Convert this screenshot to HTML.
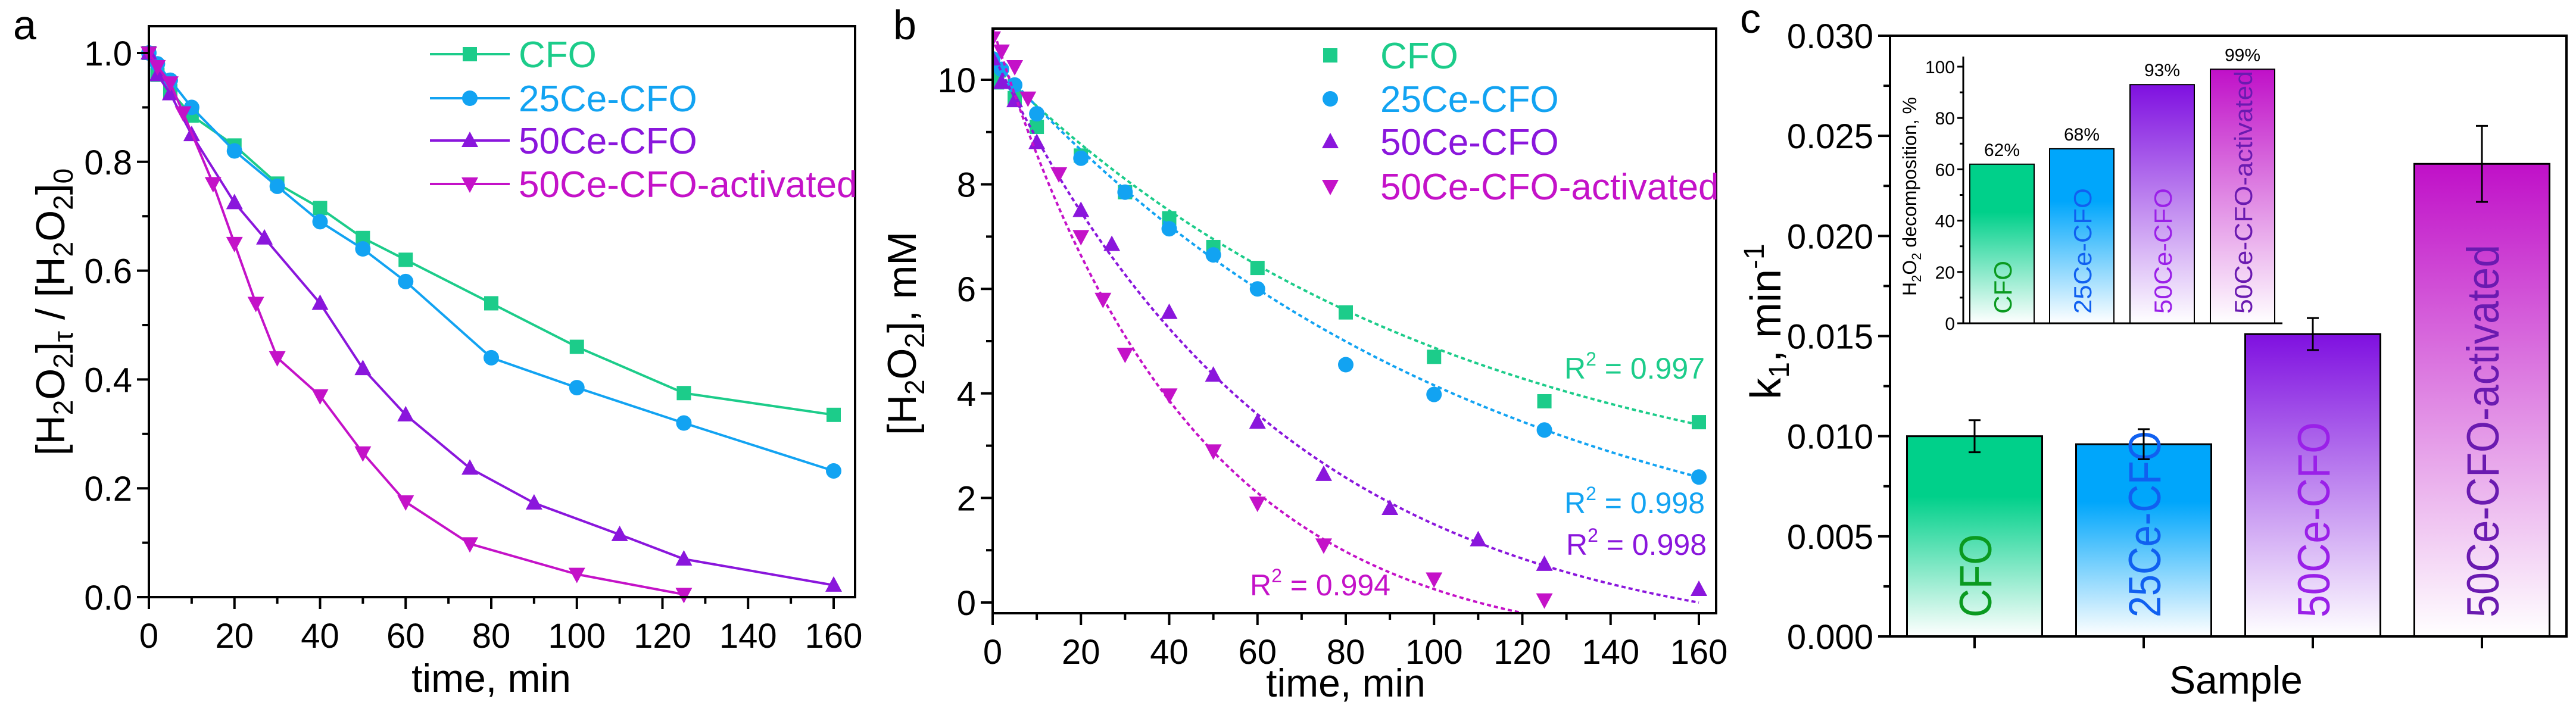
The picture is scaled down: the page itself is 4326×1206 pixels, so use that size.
<!DOCTYPE html>
<html><head><meta charset="utf-8"><style>
html,body{margin:0;padding:0;background:#fff;}
svg{display:block;font-family:"Liberation Sans",Arial,sans-serif;}
</style></head><body>
<svg id="fig" width="4326" height="1206" viewBox="0 0 4326 1206" xmlns="http://www.w3.org/2000/svg">
<defs>
<linearGradient id="gCFO" x1="0" y1="0" x2="0" y2="1"><stop offset="0.3" stop-color="#00d08a"/><stop offset="1" stop-color="#ffffff"/></linearGradient>
<linearGradient id="g25" x1="0" y1="0" x2="0" y2="1"><stop offset="0.3" stop-color="#00a6fb"/><stop offset="1" stop-color="#ffffff"/></linearGradient>
<linearGradient id="g50" x1="0" y1="0" x2="0" y2="1"><stop offset="0" stop-color="#7f10e0"/><stop offset="1" stop-color="#ffffff"/></linearGradient>
<linearGradient id="gAct" x1="0" y1="0" x2="0" y2="1"><stop offset="0" stop-color="#c010c8"/><stop offset="1" stop-color="#ffffff"/></linearGradient>
</defs>
</svg>
<script>
// ---------- data ----------
const seriesNames = ["CFO","25Ce-CFO","50Ce-CFO","50Ce-CFO-activated"];
const seriesColors = ["#1ccc8a","#12a3f2","#8a16dc","#c412c8"];
// panel a
const aT_CFO = [0,2,5,10,20,30,40,50,60,80,100,125,160];
const aY_CFO = [1.0,0.96,0.93,0.885,0.83,0.76,0.715,0.66,0.62,0.54,0.46,0.375,0.335];
const aT_25 = [0,2,5,10,20,30,40,50,60,80,100,125,160];
const aY_25 = [1.0,0.98,0.95,0.9,0.82,0.755,0.69,0.64,0.58,0.44,0.385,0.32,0.232];
const aT_50 = [0,2,5,10,20,27,40,50,60,75,90,110,125,160];
const aY_50 = [1.0,0.96,0.925,0.85,0.725,0.66,0.54,0.42,0.335,0.237,0.173,0.115,0.07,0.022];
const aT_Act = [0,2,5,8,15,20,25,30,40,50,60,75,100,125];
const aY_Act = [1.0,0.975,0.945,0.89,0.76,0.65,0.54,0.44,0.37,0.265,0.175,0.098,0.042,0.005];
// panel b
const bT_CFO = [0,1,5,10,20,30,40,50,60,80,100,125,160];
const bY_CFO = [10.1,9.95,9.65,9.1,8.55,7.85,7.35,6.8,6.4,5.55,4.7,3.85,3.45];
const bT_25 = [0,2,5,10,20,30,40,50,60,80,100,125,160];
const bY_25 = [10.4,10.2,9.9,9.35,8.5,7.85,7.15,6.65,6.0,4.55,3.98,3.3,2.4];
const bT_50 = [0,2,5,10,20,27,40,50,60,75,90,110,125,160];
const bY_50 = [10.4,9.95,9.6,8.8,7.5,6.85,5.55,4.35,3.45,2.45,1.8,1.2,0.73,0.25];
const bT_Act = [0,2,5,8,15,20,25,30,40,50,60,75,100,125];
const bY_Act = [10.8,10.55,10.25,9.65,8.2,7.0,5.8,4.75,3.97,2.9,1.9,1.1,0.45,0.05];
// exponential fits y = A*exp(-k t) + y0
const fitA = [8.8,10.4,11.5,12];
const fitK = [0.00958,0.00917,0.01527,0.02257];
const fitY0 = [1.5,0,-1,-1];
const fitTmax = [160,160,160,125];
const r2Labels = ["0.997","0.998","0.998","0.994"];
// panel c
const cCats = ["CFO","25Ce-CFO","50Ce-CFO","50Ce-CFO-activated"];
const cK = [0.0100,0.0096,0.0151,0.0236];
const cErr = [0.0008,0.00075,0.0008,0.0019];
const insetVals = [62,68,93,99];
const insetLabels = ["62%","68%","93%","99%"];
const cTicks = ["0.000","0.005","0.010","0.015","0.020","0.025","0.030"];

// ---------- helpers ----------
const NS="http://www.w3.org/2000/svg";
const svg=document.getElementById('fig');
function mk(tag,attrs,parent,text){const e=document.createElementNS(NS,tag);for(const k in attrs)e.setAttribute(k,attrs[k]);if(text!==undefined)e.textContent=text;(parent||svg).appendChild(e);return e;}
function lin(d0,d1,r0,r1){return v=>r0+(v-d0)/(d1-d0)*(r1-r0);}
function marker(g,type,x,y,c){
  let e;
  if(type==0){e=mk('rect',{x:x-12,y:y-12,width:24,height:24,fill:c},g);}
  else if(type==1){e=mk('circle',{cx:x,cy:y,r:13,fill:c},g);}
  else if(type==2){e=mk('polygon',{points:`${x},${y-15} ${x-14},${y+11} ${x+14},${y+11}`,fill:c},g);}
  else {e=mk('polygon',{points:`${x},${y+15} ${x-14},${y-11} ${x+14},${y-11}`,fill:c},g);}
  
  
  return e;
}
function frame(L,T,R,B,name){
  const e=mk('rect',{x:L,y:T,width:R-L,height:B-T,fill:'none',stroke:'#000','stroke-width':4});
  
  
}
function xAxis(sx,B,ticks,minors,fs){
  const g=mk('g',{});
  
  
  ticks.forEach(t=>{mk('line',{x1:sx(t),x2:sx(t),y1:B,y2:B+20,stroke:'#000','stroke-width':4},g);
    const tx=mk('text',{x:sx(t),y:B+85,'font-size':fs,'text-anchor':'middle'},g,String(t));
    });
  minors.forEach(t=>mk('line',{x1:sx(t),x2:sx(t),y1:B,y2:B+11,stroke:'#000','stroke-width':4},g));
}
function yAxis(sy,L,ticks,labels,minors,fs){
  const g=mk('g',{});
  
  
  ticks.forEach((t,i)=>{mk('line',{x1:L-20,x2:L,y1:sy(t),y2:sy(t),stroke:'#000','stroke-width':4},g);
    const tx=mk('text',{x:L-28,y:sy(t)+21,'font-size':fs,'text-anchor':'end'},g,labels[i]);
    });
  minors.forEach(t=>mk('line',{x1:L-11,x2:L,y1:sy(t),y2:sy(t),stroke:'#000','stroke-width':4},g));
}

// ---------- panel a ----------
(function(){
  const L=250,R=1436,T=44,B=1003;
  const sx=lin(0,160,250,1400), sy=lin(0,1,1003,89);
  const Ts=[aT_CFO,aT_25,aT_50,aT_Act], Ys=[aY_CFO,aY_25,aY_50,aY_Act];
  const lbl=mk('text',{x:22,y:66,'font-size':70},svg,'a');
  Ts.forEach((ts,s)=>{
    const g=mk('g',{});
    mk('polyline',{points:ts.map((t,i)=>sx(t)+','+sy(Ys[s][i])).join(' '),fill:'none',stroke:seriesColors[s],'stroke-width':4},g);
    ts.forEach((t,i)=>marker(g,s,sx(t),sy(Ys[s][i]),seriesColors[s]));
  });
  frame(L,T,R,B,'plot-frame-a');
  xAxis(sx,B,[0,20,40,60,80,100,120,140,160],[10,30,50,70,90,110,130,150],58);
  const yt=[0,0.2,0.4,0.6,0.8,1.0];
  yAxis(sy,L,yt,yt.map(v=>v.toFixed(1)),[0.1,0.3,0.5,0.7,0.9],58);
  const xt=mk('text',{x:sx(80),y:1162,'font-size':66,'text-anchor':'middle'},svg,'time, min');
  const yt2=mk('text',{transform:'translate(108,524) rotate(-90)','font-size':68,'text-anchor':'middle'},svg);
  
  yt2.innerHTML='[H<tspan font-size="46" dy="14">2</tspan><tspan dy="-14">O</tspan><tspan font-size="46" dy="14">2</tspan><tspan dy="-14">]</tspan><tspan font-size="46" dy="14">τ</tspan><tspan dy="-14"> / [H</tspan><tspan font-size="46" dy="14">2</tspan><tspan dy="-14">O</tspan><tspan font-size="46" dy="14">2</tspan><tspan dy="-14">]</tspan><tspan font-size="46" dy="14">0</tspan>';
  const lg=mk('g',{});
  const rows=[91,165,236,309];
  seriesNames.forEach((n,s)=>{
    const e=mk('g',{},lg);
    mk('line',{x1:722,x2:856,y1:rows[s],y2:rows[s],stroke:seriesColors[s],'stroke-width':4},e);
    marker(e,s,789,rows[s],seriesColors[s]);
    mk('text',{x:871,y:rows[s]+22,'font-size':62,fill:seriesColors[s]},e,n);
  });
})();

// ---------- panel b ----------
(function(){
  const L=1667,R=2882,T=48,B=1030;
  const sx=lin(0,160,1667,2853), sy=lin(0,10,1012,134);
  const Ts=[bT_CFO,bT_25,bT_50,bT_Act], Ys=[bY_CFO,bY_25,bY_50,bY_Act];
  const lbl=mk('text',{x:1500,y:66,'font-size':70},svg,'b');
  const clip=mk('clipPath',{id:'clipb'});mk('rect',{x:L,y:T,width:R-L,height:B-T},clip);
  Ts.forEach((ts,s)=>{
    const g=mk('g',{'clip-path':'url(#clipb)'});
    const pts=[];for(let t=0;t<=fitTmax[s];t+=1){pts.push(sx(t)+','+sy(fitA[s]*Math.exp(-fitK[s]*t)+fitY0[s]));}
    const fl=mk('polyline',{points:pts.join(' '),fill:'none',stroke:seriesColors[s],'stroke-width':4,'stroke-dasharray':'7,5'},g);
    
    ts.forEach((t,i)=>marker(g,s,sx(t),sy(Ys[s][i]),seriesColors[s]));
  });
  frame(L,T,R,B,'plot-frame-b');
  xAxis(sx,B,[0,20,40,60,80,100,120,140,160],[10,30,50,70,90,110,130,150],58);
  const yt=[0,2,4,6,8,10];
  yAxis(sy,L,yt,yt.map(String),[1,3,5,7,9],58);
  const xt=mk('text',{x:sx(80),y:1170,'font-size':66,'text-anchor':'middle'},svg,'time, min');
  const yt2=mk('text',{transform:'translate(1538,560) rotate(-90)','font-size':68,'text-anchor':'middle'},svg);
  
  yt2.innerHTML='[H<tspan font-size="46" dy="14">2</tspan><tspan dy="-14">O</tspan><tspan font-size="46" dy="14">2</tspan><tspan dy="-14">], mM</tspan>';
  const rpos=[[2863,636,'end'],[2863,862,'end'],[2866,932,'end'],[2335,1000,'end']];
  r2Labels.forEach((r,s)=>{
    const t=mk('text',{x:rpos[s][0],y:rpos[s][1],'font-size':50,fill:seriesColors[s],'text-anchor':rpos[s][2]},svg);
    
    t.innerHTML='R<tspan font-size="32" dy="-22">2</tspan><tspan dy="22"> = '+r+'</tspan>';
  });
  const lg=mk('g',{});
  const rows=[93,166,238,313];
  seriesNames.forEach((n,s)=>{
    const e=mk('g',{},lg);
    marker(e,s,2234,rows[s],seriesColors[s]);
    mk('text',{x:2318,y:rows[s]+22,'font-size':62,fill:seriesColors[s]},e,n);
  });
})();

// ---------- panel c ----------
(function(){
  const L=3174,R=4310,T=60,B=1069;
  const sy=lin(0,0.03,1069,60);
  const centers=[3316,3600,3884,4168], bw=227;
  const grads=['url(#gCFO)','url(#g25)','url(#g50)','url(#gAct)'];
  const textCols=['#0a9a20','#1060f0','#9a20e8','#6a1ab0'];
  const labLen=[140,313,328,626];
  const inLabLen=[89,211,211,408];
  const lbl=mk('text',{x:2922,y:55,'font-size':70},svg,'c');
  cK.forEach((v,i)=>{
    const g=mk('g',{});
    mk('rect',{x:centers[i]-bw/2,y:sy(v),width:bw,height:sy(0)-sy(v),fill:grads[i],stroke:'#000','stroke-width':3},g);
    mk('text',{transform:`translate(${centers[i]+28},${B-32}) rotate(-90)`,'font-size':76,fill:textCols[i],textLength:labLen[i],lengthAdjust:'spacingAndGlyphs'},g,cCats[i]);
    const eb=mk('g',{},g);
    mk('line',{x1:centers[i],x2:centers[i],y1:sy(v+cErr[i]),y2:sy(v-cErr[i]),stroke:'#000','stroke-width':3},eb);
    mk('line',{x1:centers[i]-10,x2:centers[i]+10,y1:sy(v+cErr[i]),y2:sy(v+cErr[i]),stroke:'#000','stroke-width':3},eb);
    mk('line',{x1:centers[i]-10,x2:centers[i]+10,y1:sy(v-cErr[i]),y2:sy(v-cErr[i]),stroke:'#000','stroke-width':3},eb);
  });
  frame(L,T,R,B,'plot-frame-c');
  const g=mk('g',{});
  centers.forEach(c=>mk('line',{x1:c,x2:c,y1:B,y2:B+20,stroke:'#000','stroke-width':4},g));
  const yt=[0,0.005,0.01,0.015,0.02,0.025,0.03];
  yAxis(sy,L,yt,cTicks,[0.0025,0.0075,0.0125,0.0175,0.0225,0.0275],58);
  const xt=mk('text',{x:3755,y:1165,'font-size':66,'text-anchor':'middle'},svg,'Sample');
  const yt2=mk('text',{transform:'translate(2990,540) rotate(-90)','font-size':72,'text-anchor':'middle'},svg);
  
  yt2.innerHTML='k<tspan font-size="48" dy="14">1</tspan><tspan dy="-14">, min</tspan><tspan font-size="48" dy="-28">-1</tspan>';

  // inset
  const iL=3297,iB=543,iR=3833;
  const isy=lin(0,100,543,112);
  const icent=[3362,3496,3631,3766], ibw=108;
  const ig=mk('g',{});
  mk('rect',{x:iL,y:95,width:iR-iL,height:iB-95,fill:'#fff'},ig);
  insetVals.forEach((v,i)=>{
    const b=mk('g',{},ig);
    mk('rect',{x:icent[i]-ibw/2,y:isy(v),width:ibw,height:isy(0)-isy(v),fill:grads[i],stroke:'#000','stroke-width':2},b);
    mk('text',{x:icent[i],y:isy(v)-14,'font-size':30,'text-anchor':'middle'},b,insetLabels[i]);
    mk('text',{transform:`translate(${icent[i]+16},${iB-16}) rotate(-90)`,'font-size':42,fill:textCols[i],textLength:inLabLen[i],lengthAdjust:'spacingAndGlyphs'},b,cCats[i]);
  });
  mk('line',{x1:iL,x2:iR,y1:iB,y2:iB,stroke:'#000','stroke-width':3},ig);
  mk('line',{x1:iL,x2:iL,y1:iB,y2:95,stroke:'#000','stroke-width':3},ig);
  [0,20,40,60,80,100].forEach(t=>{mk('line',{x1:iL-10,x2:iL,y1:isy(t),y2:isy(t),stroke:'#000','stroke-width':3},ig);
    mk('text',{x:iL-14,y:isy(t)+11,'font-size':30,'text-anchor':'end'},ig,String(t));});
  [10,30,50,70,90].forEach(t=>mk('line',{x1:iL-6,x2:iL,y1:isy(t),y2:isy(t),stroke:'#000','stroke-width':3},ig));
  const it=mk('text',{transform:'translate(3218,330) rotate(-90)','font-size':32,'text-anchor':'middle'},ig);
  
  it.innerHTML='H<tspan font-size="22" dy="8">2</tspan><tspan dy="-8">O</tspan><tspan font-size="22" dy="8">2</tspan><tspan dy="-8"> decomposition, %</tspan>';
})();
</script>
</body></html>
